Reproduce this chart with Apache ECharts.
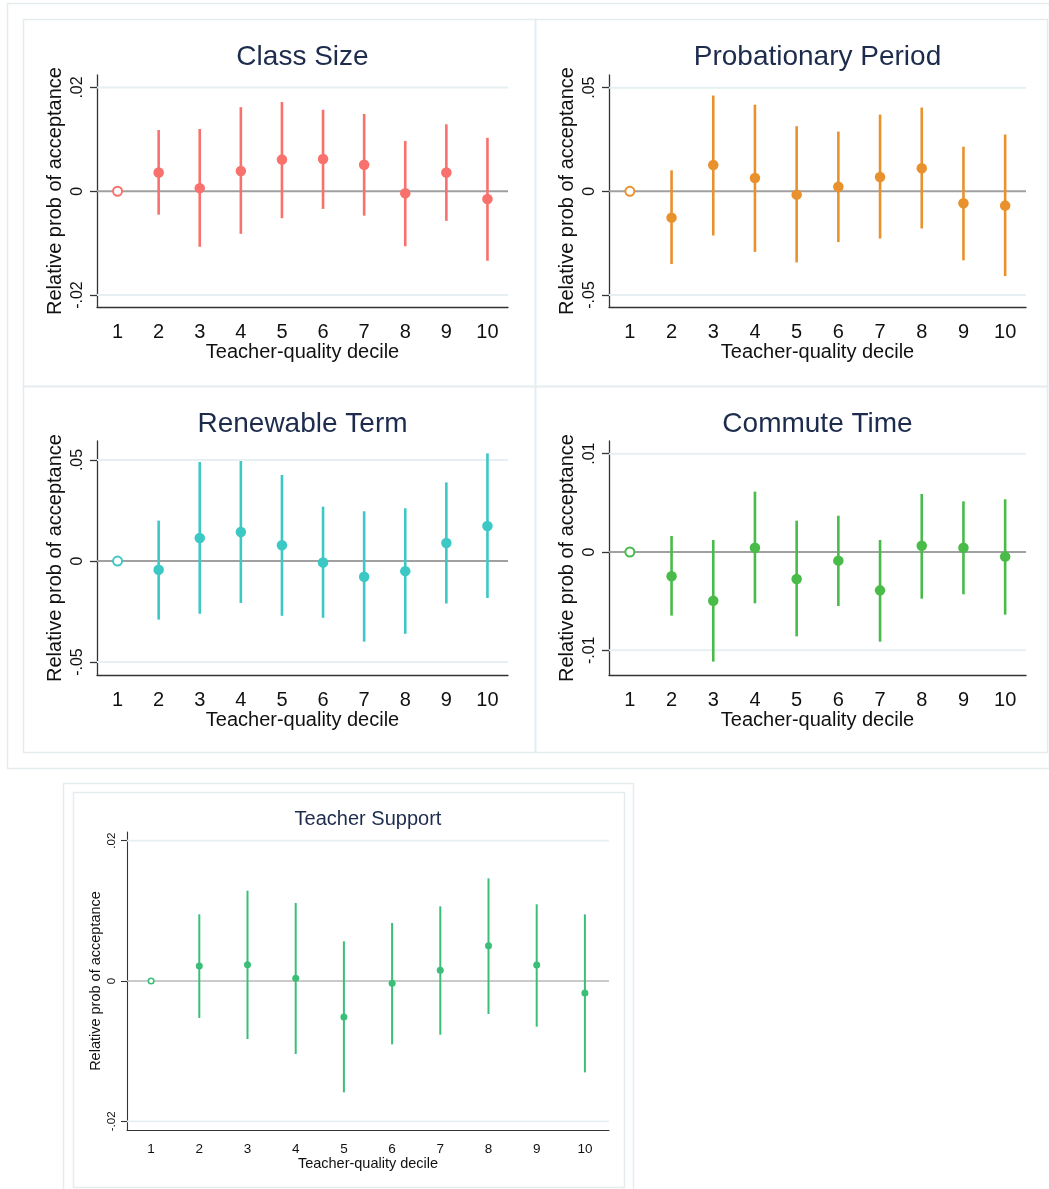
<!DOCTYPE html>
<html>
<head>
<meta charset="utf-8">
<script src="https://cdn.jsdelivr.net/npm/echarts@6/dist/echarts.min.js"></script>
<style>
html,body{margin:0;padding:0;background:#fff;}
#chart{width:1049px;height:1189px;}
</style>
</head>
<body>
<div id="chart"></div>
<script>
// ---------- DATA ----------
const deciles = ['1','2','3','4','5','6','7','8','9','10'];

const classSizeEst = [0, 0.0036, 0.0006, 0.0039, 0.0061, 0.0062, 0.0051, -0.0004, 0.0036, -0.0015];
const classSizeLo  = [null, -0.0045, -0.0107, -0.0082, -0.0052, -0.0034, -0.0047, -0.0106, -0.0057, -0.0134];
const classSizeHi  = [null, 0.0118, 0.0120, 0.0162, 0.0172, 0.0157, 0.0149, 0.0097, 0.0129, 0.0103];

const probationEst = [0, -0.0127, 0.0127, 0.0064, -0.0016, 0.0022, 0.0069, 0.0111, -0.0058, -0.0069];
const probationLo  = [null, -0.0351, -0.0213, -0.0292, -0.0343, -0.0245, -0.0228, -0.0179, -0.0333, -0.0409];
const probationHi  = [null, 0.0101, 0.0462, 0.0418, 0.0314, 0.0288, 0.0370, 0.0404, 0.0215, 0.0274];

const renewableEst = [0, -0.0043, 0.0114, 0.0144, 0.0078, -0.0007, -0.0078, -0.0050, 0.0089, 0.0173];
const renewableLo  = [null, -0.0290, -0.0261, -0.0208, -0.0271, -0.0281, -0.0399, -0.0360, -0.0210, -0.0183];
const renewableHi  = [null, 0.0200, 0.0490, 0.0495, 0.0426, 0.0269, 0.0246, 0.0261, 0.0389, 0.0533];

const commuteEst = [0, -0.00247, -0.00495, 0.00044, -0.00275, -0.00088, -0.0039, 0.00064, 0.00044, -0.00047];
const commuteLo  = [null, -0.00647, -0.01115, -0.00522, -0.00858, -0.00549, -0.00912, -0.00475, -0.0043, -0.00637];
const commuteHi  = [null, 0.00163, 0.00122, 0.00614, 0.00319, 0.00369, 0.00122, 0.0059, 0.00515, 0.00536];

const supportEst = [0, 0.00214, 0.00233, 0.00038, -0.00513, -0.00033, 0.00152, 0.00504, 0.00228, -0.00171];
const supportLo  = [null, -0.00527, -0.00827, -0.0104, -0.01587, -0.00903, -0.00765, -0.0047, -0.00651, -0.01302];
const supportHi  = [null, 0.0095, 0.01287, 0.01112, 0.00565, 0.00827, 0.01064, 0.01463, 0.01093, 0.0095];

const ticks02 = [-0.02, 0, 0.02];
const ticks02Labels = ['-.02', '0', '.02'];
const ticks05 = [-0.05, 0, 0.05];
const ticks05Labels = ['-.05', '0', '.05'];
const ticks01 = [-0.01, 0, 0.01];
const ticks01Labels = ['-.01', '0', '.01'];

const yTitle = 'Relative prob of acceptance';
const xTitle = 'Teacher-quality decile';

// ---------- LAYOUT / STYLE ----------
const FONT = '"Liberation Sans", Arial, Helvetica, sans-serif';
const panels = [
  {title:'Class Size', color:'#f8716c', est:classSizeEst, lo:classSizeLo, hi:classSizeHi,
   min:-0.0223, max:0.0224, ticks:ticks02, labels:ticks02Labels,
   grid:{left:97, top:75, width:411, height:232}, titleTop:43, big:true},
  {title:'Probationary Period', color:'#e8912d', est:probationEst, lo:probationLo, hi:probationHi,
   min:-0.0558, max:0.0561, ticks:ticks05, labels:ticks05Labels,
   grid:{left:609, top:75, width:417, height:232}, titleTop:43, big:true},
  {title:'Renewable Term', color:'#3cc8c4', est:renewableEst, lo:renewableLo, hi:renewableHi,
   min:-0.0564, max:0.0594, ticks:ticks05, labels:ticks05Labels,
   grid:{left:97, top:441, width:411, height:234}, titleTop:410, big:true},
  {title:'Commute Time', color:'#48bb48', est:commuteEst, lo:commuteLo, hi:commuteHi,
   min:-0.01251, max:0.01129, ticks:ticks01, labels:ticks01Labels,
   grid:{left:609, top:441, width:417, height:234}, titleTop:410, big:true},
  {title:'Teacher Support', color:'#3bbf78', est:supportEst, lo:supportLo, hi:supportHi,
   min:-0.02123, max:0.02123, ticks:ticks02, labels:ticks02Labels,
   grid:{left:127, top:832, width:482, height:298}, titleTop:809, big:false}
];

const option = {
  backgroundColor:'#ffffff',
  animation:false,
  title:[], grid:[], xAxis:[], yAxis:[], series:[],
  graphic:[]
};

const frameStroke = '#e4ecee';
const frames = [
  [7,3,1042,765],
  [23,19,512,367],[535,19,512,367],[23,386,512,366],[535,386,512,366],
  [63,783,570,410],[73,792,551,395]
];
frames.forEach(f=>{
  option.graphic.push({type:'rect', silent:true, z:-10,
    shape:{x:f[0]+0.5,y:f[1]+0.5,width:f[2],height:f[3]},
    style:{fill:null, stroke:frameStroke, lineWidth:1.5}});
});

panels.forEach((p,i)=>{
  const big = p.big;
  const fs = big ? {title:28, name:20, xlab:20, ylab:16, tick:7, dot:10.5, ci:2.6, zero:2, axis:1.3}
                 : {title:20, name:14.5, xlab:13.5, ylab:11.5, tick:6, dot:7, ci:2, zero:1.3, axis:1.1};
  option.title.push({
    text:p.title, left:p.grid.left + p.grid.width/2, top:p.titleTop, textAlign:'center', padding:0,
    textStyle:{fontFamily:FONT, fontSize:fs.title, fontWeight:'normal', color:'#1d2b4d'}
  });
  option.grid.push(Object.assign({containLabel:false}, p.grid));
  option.xAxis.push({
    type:'category', gridIndex:i, data:deciles, boundaryGap:true,
    name:xTitle, nameLocation:'middle', nameGap: big ? 35 : 23,
    nameTextStyle:{fontFamily:FONT, fontSize:fs.name, color:'#111'},
    axisLine:{onZero:false, lineStyle:{color:'#333', width:fs.axis}},
    axisTick:{alignWithLabel:true, length:fs.tick, lineStyle:{color:'#333', width:fs.axis}},
    axisLabel:{fontFamily:FONT, fontSize:fs.xlab, color:'#111', margin: big ? 15 : 12},
    splitLine:{show:false}
  });
  const labs = p.labels, tks = p.ticks;
  option.yAxis.push({
    type:'value', gridIndex:i, min:p.min, max:p.max,
    name:yTitle, nameLocation:'middle', nameGap: big ? 32 : 24,
    nameTextStyle:{fontFamily:FONT, fontSize:fs.name, color:'#111'},
    axisLine:{show:true, onZero:false, lineStyle:{color:'#333', width:fs.axis}},
    axisTick:{show:true, length:fs.tick, customValues:tks, lineStyle:{color:'#333', width:fs.axis}},
    axisLabel:{show:true, rotate:90, customValues:tks, fontFamily:FONT, fontSize:fs.ylab, color:'#111', margin: big ? 11 : 9,
      formatter:function(v){
        let best=0, bd=Infinity;
        tks.forEach((t,k)=>{const d=Math.abs(t-v); if(d<bd){bd=d;best=k;}});
        return labs[best];
      }},
    splitLine:{show:false}
  });
  // gridlines at tick values (non-zero)
  option.series.push({
    type:'custom', xAxisIndex:i, yAxisIndex:i, z:1, silent:true,
    data: tks.filter(t=>t!==0).map(t=>[0,t]),
    renderItem:function(params, api){
      const cs = params.coordSys;
      const y = api.coord([0, api.value(1)])[1];
      return {type:'line', shape:{x1:cs.x, y1:y, x2:cs.x+cs.width, y2:y},
        style:{stroke:'#e6eff1', lineWidth: big ? 2 : 1.6}};
    }
  });
  // zero reference line
  option.series.push({
    type:'custom', xAxisIndex:i, yAxisIndex:i, z:2, silent:true,
    data:[[0,0]],
    renderItem:function(params, api){
      const cs = params.coordSys;
      const y = api.coord([0, api.value(1)])[1];
      return {type:'line', shape:{x1:cs.x, y1:y, x2:cs.x+cs.width, y2:y},
        style:{stroke: big ? '#a0a0a0' : '#b8b8b8', lineWidth:fs.zero}};
    }
  });
  // confidence intervals
  const ciData = [];
  p.lo.forEach((lo,k)=>{ if(lo!==null) ciData.push([k, lo, p.hi[k]]); });
  option.series.push({
    type:'custom', xAxisIndex:i, yAxisIndex:i, z:3, silent:true,
    data:ciData,
    renderItem:function(params, api){
      const a = api.coord([api.value(0), api.value(1)]);
      const b = api.coord([api.value(0), api.value(2)]);
      return {type:'line', shape:{x1:a[0], y1:a[1], x2:b[0], y2:b[1]},
        style:{stroke:p.color, lineWidth:fs.ci}};
    }
  });
  // point estimates
  option.series.push({
    type:'scatter', xAxisIndex:i, yAxisIndex:i, z:4, silent:true,
    symbol:'circle', symbolSize:fs.dot,
    itemStyle:{color:p.color, opacity:1},
    data:p.est.map((v,k)=>[k,v]).filter((d,k)=>k>0)
  });
  // reference category (hollow)
  option.series.push({
    type:'scatter', xAxisIndex:i, yAxisIndex:i, z:4, silent:true,
    symbol:'circle', symbolSize:fs.dot - 1.5,
    itemStyle:{color:'#ffffff', borderColor:p.color, borderWidth: big ? 2 : 1.6, opacity:1},
    data:[[0, p.est[0]]]
  });
});

const chart = echarts.init(document.getElementById('chart'), null, {renderer:'canvas'});
chart.setOption(option);
</script>
</body>
</html>
